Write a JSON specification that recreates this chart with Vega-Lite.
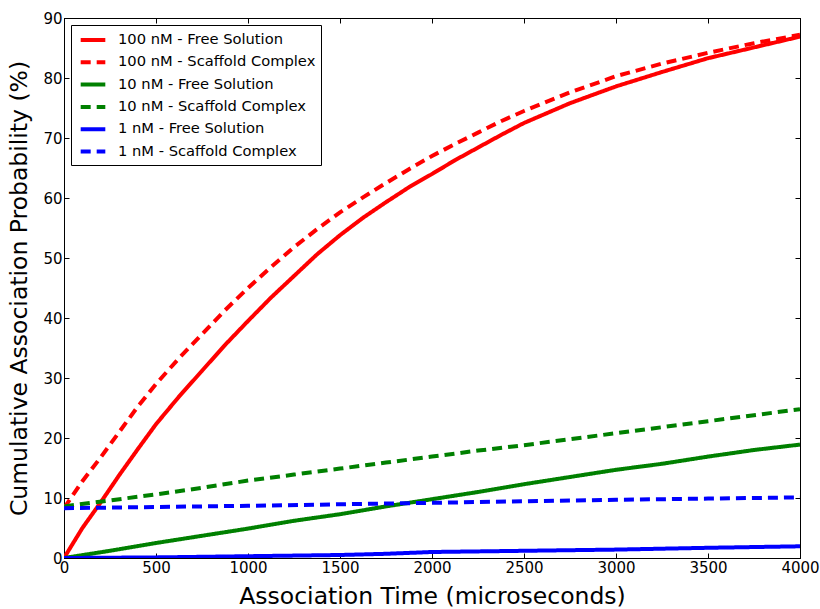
{
  "$schema": "https://vega.github.io/schema/vega-lite/v6.json",
  "width": 736,
  "height": 540,
  "autosize": {"type": "none"},
  "padding": {"left": 64, "top": 18, "right": 20, "bottom": 51},
  "background": "white",
  "config": {
    "font": "DejaVu Sans",
    "view": {"stroke": "black", "strokeWidth": 1},
    "axis": {"grid": false, "domainColor": "black", "tickColor": "black", "labelColor": "black", "titleColor": "black", "labelFont": "DejaVu Sans", "titleFont": "DejaVu Sans", "labelFontSize": 15, "titleFontSize": 23.5, "titleFontWeight": "normal", "tickSize": -5, "labelPadding": 5, "labelFlush": false, "labelOverlap": false},
    "legend": {"labelFont": "DejaVu Sans", "labelFontSize": 14.7, "labelColor": "black", "labelLimit": 0}
  },
  "data": {"values": [
    {"s": "100 nM - Free Solution", "t": 0, "v": 0},
    {"s": "100 nM - Free Solution", "t": 100, "v": 5},
    {"s": "100 nM - Free Solution", "t": 200, "v": 9.3},
    {"s": "100 nM - Free Solution", "t": 300, "v": 13.8},
    {"s": "100 nM - Free Solution", "t": 400, "v": 18.1},
    {"s": "100 nM - Free Solution", "t": 500, "v": 22.3},
    {"s": "100 nM - Free Solution", "t": 625, "v": 26.9},
    {"s": "100 nM - Free Solution", "t": 750, "v": 31.2},
    {"s": "100 nM - Free Solution", "t": 875, "v": 35.5},
    {"s": "100 nM - Free Solution", "t": 1000, "v": 39.5},
    {"s": "100 nM - Free Solution", "t": 1125, "v": 43.4},
    {"s": "100 nM - Free Solution", "t": 1250, "v": 47},
    {"s": "100 nM - Free Solution", "t": 1375, "v": 50.6},
    {"s": "100 nM - Free Solution", "t": 1500, "v": 53.8},
    {"s": "100 nM - Free Solution", "t": 1625, "v": 56.7},
    {"s": "100 nM - Free Solution", "t": 1750, "v": 59.3},
    {"s": "100 nM - Free Solution", "t": 1875, "v": 61.8},
    {"s": "100 nM - Free Solution", "t": 2000, "v": 64},
    {"s": "100 nM - Free Solution", "t": 2125, "v": 66.3},
    {"s": "100 nM - Free Solution", "t": 2250, "v": 68.4},
    {"s": "100 nM - Free Solution", "t": 2375, "v": 70.5},
    {"s": "100 nM - Free Solution", "t": 2500, "v": 72.5},
    {"s": "100 nM - Free Solution", "t": 2750, "v": 75.8},
    {"s": "100 nM - Free Solution", "t": 3000, "v": 78.6},
    {"s": "100 nM - Free Solution", "t": 3250, "v": 81},
    {"s": "100 nM - Free Solution", "t": 3500, "v": 83.3},
    {"s": "100 nM - Free Solution", "t": 3750, "v": 85.1},
    {"s": "100 nM - Free Solution", "t": 4000, "v": 86.9},
    {"s": "100 nM - Scaffold Complex", "t": 0, "v": 8.3},
    {"s": "100 nM - Scaffold Complex", "t": 100, "v": 12.8},
    {"s": "100 nM - Scaffold Complex", "t": 200, "v": 16.8},
    {"s": "100 nM - Scaffold Complex", "t": 300, "v": 21},
    {"s": "100 nM - Scaffold Complex", "t": 400, "v": 25.2},
    {"s": "100 nM - Scaffold Complex", "t": 500, "v": 29},
    {"s": "100 nM - Scaffold Complex", "t": 625, "v": 33.3},
    {"s": "100 nM - Scaffold Complex", "t": 750, "v": 37.3},
    {"s": "100 nM - Scaffold Complex", "t": 875, "v": 41.3},
    {"s": "100 nM - Scaffold Complex", "t": 1000, "v": 45},
    {"s": "100 nM - Scaffold Complex", "t": 1125, "v": 48.5},
    {"s": "100 nM - Scaffold Complex", "t": 1250, "v": 51.8},
    {"s": "100 nM - Scaffold Complex", "t": 1375, "v": 54.8},
    {"s": "100 nM - Scaffold Complex", "t": 1500, "v": 57.6},
    {"s": "100 nM - Scaffold Complex", "t": 1625, "v": 60.1},
    {"s": "100 nM - Scaffold Complex", "t": 1750, "v": 62.5},
    {"s": "100 nM - Scaffold Complex", "t": 1875, "v": 64.8},
    {"s": "100 nM - Scaffold Complex", "t": 2000, "v": 67},
    {"s": "100 nM - Scaffold Complex", "t": 2125, "v": 69},
    {"s": "100 nM - Scaffold Complex", "t": 2250, "v": 70.9},
    {"s": "100 nM - Scaffold Complex", "t": 2375, "v": 72.8},
    {"s": "100 nM - Scaffold Complex", "t": 2500, "v": 74.5},
    {"s": "100 nM - Scaffold Complex", "t": 2750, "v": 77.6},
    {"s": "100 nM - Scaffold Complex", "t": 3000, "v": 80.3},
    {"s": "100 nM - Scaffold Complex", "t": 3250, "v": 82.4},
    {"s": "100 nM - Scaffold Complex", "t": 3500, "v": 84.2},
    {"s": "100 nM - Scaffold Complex", "t": 3750, "v": 85.8},
    {"s": "100 nM - Scaffold Complex", "t": 4000, "v": 87.2},
    {"s": "10 nM - Free Solution", "t": 0, "v": 0},
    {"s": "10 nM - Free Solution", "t": 250, "v": 1.2},
    {"s": "10 nM - Free Solution", "t": 500, "v": 2.5},
    {"s": "10 nM - Free Solution", "t": 750, "v": 3.7},
    {"s": "10 nM - Free Solution", "t": 1000, "v": 4.9},
    {"s": "10 nM - Free Solution", "t": 1250, "v": 6.2},
    {"s": "10 nM - Free Solution", "t": 1500, "v": 7.3},
    {"s": "10 nM - Free Solution", "t": 1750, "v": 8.6},
    {"s": "10 nM - Free Solution", "t": 2000, "v": 9.8},
    {"s": "10 nM - Free Solution", "t": 2250, "v": 11},
    {"s": "10 nM - Free Solution", "t": 2500, "v": 12.3},
    {"s": "10 nM - Free Solution", "t": 2750, "v": 13.5},
    {"s": "10 nM - Free Solution", "t": 3000, "v": 14.7},
    {"s": "10 nM - Free Solution", "t": 3250, "v": 15.7},
    {"s": "10 nM - Free Solution", "t": 3500, "v": 16.9},
    {"s": "10 nM - Free Solution", "t": 3750, "v": 18},
    {"s": "10 nM - Free Solution", "t": 4000, "v": 18.9},
    {"s": "10 nM - Scaffold Complex", "t": 0, "v": 8.6},
    {"s": "10 nM - Scaffold Complex", "t": 250, "v": 9.6},
    {"s": "10 nM - Scaffold Complex", "t": 500, "v": 10.6},
    {"s": "10 nM - Scaffold Complex", "t": 750, "v": 11.7},
    {"s": "10 nM - Scaffold Complex", "t": 1000, "v": 12.9},
    {"s": "10 nM - Scaffold Complex", "t": 1250, "v": 13.9},
    {"s": "10 nM - Scaffold Complex", "t": 1500, "v": 14.9},
    {"s": "10 nM - Scaffold Complex", "t": 1750, "v": 15.9},
    {"s": "10 nM - Scaffold Complex", "t": 2000, "v": 16.9},
    {"s": "10 nM - Scaffold Complex", "t": 2250, "v": 17.9},
    {"s": "10 nM - Scaffold Complex", "t": 2500, "v": 18.8},
    {"s": "10 nM - Scaffold Complex", "t": 2750, "v": 19.8},
    {"s": "10 nM - Scaffold Complex", "t": 3000, "v": 20.8},
    {"s": "10 nM - Scaffold Complex", "t": 3250, "v": 21.8},
    {"s": "10 nM - Scaffold Complex", "t": 3500, "v": 22.8},
    {"s": "10 nM - Scaffold Complex", "t": 3750, "v": 23.8},
    {"s": "10 nM - Scaffold Complex", "t": 4000, "v": 24.8},
    {"s": "1 nM - Free Solution", "t": 0, "v": 0},
    {"s": "1 nM - Free Solution", "t": 500, "v": 0.1},
    {"s": "1 nM - Free Solution", "t": 1000, "v": 0.3},
    {"s": "1 nM - Free Solution", "t": 1500, "v": 0.5},
    {"s": "1 nM - Free Solution", "t": 1750, "v": 0.7},
    {"s": "1 nM - Free Solution", "t": 2000, "v": 1},
    {"s": "1 nM - Free Solution", "t": 2500, "v": 1.2},
    {"s": "1 nM - Free Solution", "t": 3000, "v": 1.4},
    {"s": "1 nM - Free Solution", "t": 3500, "v": 1.7},
    {"s": "1 nM - Free Solution", "t": 4000, "v": 1.95},
    {"s": "1 nM - Scaffold Complex", "t": 0, "v": 8.3},
    {"s": "1 nM - Scaffold Complex", "t": 500, "v": 8.5},
    {"s": "1 nM - Scaffold Complex", "t": 1000, "v": 8.7},
    {"s": "1 nM - Scaffold Complex", "t": 1500, "v": 8.95},
    {"s": "1 nM - Scaffold Complex", "t": 2000, "v": 9.2},
    {"s": "1 nM - Scaffold Complex", "t": 2500, "v": 9.45},
    {"s": "1 nM - Scaffold Complex", "t": 3000, "v": 9.7},
    {"s": "1 nM - Scaffold Complex", "t": 3500, "v": 9.9},
    {"s": "1 nM - Scaffold Complex", "t": 4000, "v": 10.1}
  ]},
  "layer": [
    {
      "mark": {"type": "line", "strokeWidth": 4, "strokeCap": "butt", "clip": true},
      "encoding": {
        "x": {"field": "t", "type": "quantitative", "scale": {"domain": [0, 4000], "nice": false, "zero": false},
              "axis": {"title": "Association Time (microseconds)", "format": "d", "values": [0, 500, 1000, 1500, 2000, 2500, 3000, 3500, 4000], "titlePadding": 9, "labelPadding": 7}},
        "y": {"field": "v", "type": "quantitative", "scale": {"domain": [0, 90], "nice": false},
              "axis": {"title": "Cumulative Association Probability (%)", "values": [0, 10, 20, 30, 40, 50, 60, 70, 80, 90], "titlePadding": 11, "labelPadding": 7}},
        "color": {"field": "s", "type": "nominal", "title": null,
          "scale": {"domain": ["100 nM - Free Solution", "100 nM - Scaffold Complex", "10 nM - Free Solution", "10 nM - Scaffold Complex", "1 nM - Free Solution", "1 nM - Scaffold Complex"],
                    "range": ["#ff0000", "#ff0000", "#008000", "#008000", "#0000ff", "#0000ff"]},
          "legend": {"orient": "top-left", "offset": 7, "strokeColor": "black", "fillColor": "white", "padding": 5, "symbolType": "M-1.6,0H1.6", "symbolStrokeWidth": 4, "symbolSize": 237, "symbolOffset": 7, "labelOffset": 15, "rowPadding": 4.3, "cornerRadius": 0, "labelLimit": 0}},
        "strokeDash": {"field": "s", "type": "nominal", "title": null,
          "scale": {"domain": ["100 nM - Free Solution", "100 nM - Scaffold Complex", "10 nM - Free Solution", "10 nM - Scaffold Complex", "1 nM - Free Solution", "1 nM - Scaffold Complex"],
                    "range": [[1, 0], [10, 6], [1, 0], [10, 6], [1, 0], [10, 6]]}}
      }
    },
    {
      "mark": {"type": "point", "opacity": 0},
      "encoding": {
        "x": {"field": "t", "type": "quantitative", "axis": {"orient": "top", "labels": false, "title": null, "values": [0, 500, 1000, 1500, 2000, 2500, 3000, 3500, 4000]}},
        "y": {"field": "v", "type": "quantitative", "axis": {"orient": "right", "labels": false, "title": null, "values": [0, 10, 20, 30, 40, 50, 60, 70, 80, 90]}}
      }
    }
  ],
  "resolve": {"axis": {"x": "independent", "y": "independent"}}
}
